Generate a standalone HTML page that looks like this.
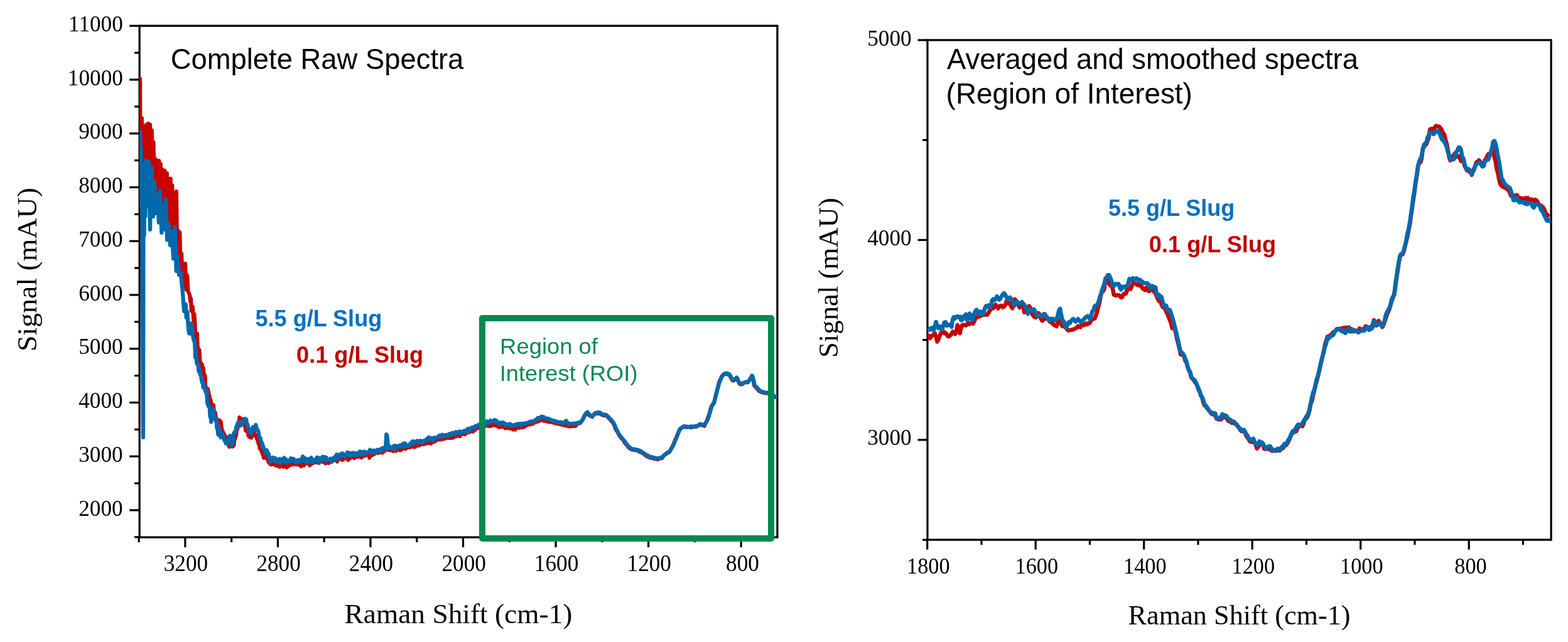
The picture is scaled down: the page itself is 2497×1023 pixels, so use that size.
<!DOCTYPE html>
<html lang="en"><head><meta charset="utf-8"><title>Raman spectra</title>
<style>
html,body{margin:0;padding:0;background:#fff;}
body{width:2497px;height:1023px;overflow:hidden;}
svg{display:block;}
text{white-space:pre;}
</style></head><body>
<svg width="2497" height="1023" viewBox="0 0 2497 1023">
<rect width="2497" height="1023" fill="#fff"/>
<defs><clipPath id="cl"><rect x="222.15" y="41.20" width="1015.75" height="814.90"/></clipPath><clipPath id="cr"><rect x="1477.00" y="63.90" width="993.10" height="796.30"/></clipPath></defs>
<line x1="222.15" y1="41.20" x2="1237.90" y2="41.20" stroke="#000" stroke-width="3.20" stroke-linecap="round"/>
<line x1="222.15" y1="856.10" x2="1237.90" y2="856.10" stroke="#000" stroke-width="3.20" stroke-linecap="round"/>
<line x1="222.15" y1="41.20" x2="222.15" y2="856.10" stroke="#000" stroke-width="3.20" stroke-linecap="round"/>
<line x1="1237.90" y1="41.20" x2="1237.90" y2="856.10" stroke="#000" stroke-width="3.20" stroke-linecap="round"/>
<line x1="206.15" y1="41.20" x2="222.15" y2="41.20" stroke="#000" stroke-width="3.20"/>
<line x1="214.15" y1="84.08" x2="222.15" y2="84.08" stroke="#000" stroke-width="3.20"/>
<line x1="206.15" y1="126.95" x2="222.15" y2="126.95" stroke="#000" stroke-width="3.20"/>
<line x1="214.15" y1="169.82" x2="222.15" y2="169.82" stroke="#000" stroke-width="3.20"/>
<line x1="206.15" y1="212.70" x2="222.15" y2="212.70" stroke="#000" stroke-width="3.20"/>
<line x1="214.15" y1="255.58" x2="222.15" y2="255.58" stroke="#000" stroke-width="3.20"/>
<line x1="206.15" y1="298.45" x2="222.15" y2="298.45" stroke="#000" stroke-width="3.20"/>
<line x1="214.15" y1="341.32" x2="222.15" y2="341.32" stroke="#000" stroke-width="3.20"/>
<line x1="206.15" y1="384.20" x2="222.15" y2="384.20" stroke="#000" stroke-width="3.20"/>
<line x1="214.15" y1="427.08" x2="222.15" y2="427.08" stroke="#000" stroke-width="3.20"/>
<line x1="206.15" y1="469.95" x2="222.15" y2="469.95" stroke="#000" stroke-width="3.20"/>
<line x1="214.15" y1="512.83" x2="222.15" y2="512.83" stroke="#000" stroke-width="3.20"/>
<line x1="206.15" y1="555.70" x2="222.15" y2="555.70" stroke="#000" stroke-width="3.20"/>
<line x1="214.15" y1="598.58" x2="222.15" y2="598.58" stroke="#000" stroke-width="3.20"/>
<line x1="206.15" y1="641.45" x2="222.15" y2="641.45" stroke="#000" stroke-width="3.20"/>
<line x1="214.15" y1="684.33" x2="222.15" y2="684.33" stroke="#000" stroke-width="3.20"/>
<line x1="206.15" y1="727.20" x2="222.15" y2="727.20" stroke="#000" stroke-width="3.20"/>
<line x1="214.15" y1="770.08" x2="222.15" y2="770.08" stroke="#000" stroke-width="3.20"/>
<line x1="206.15" y1="812.95" x2="222.15" y2="812.95" stroke="#000" stroke-width="3.20"/>
<line x1="214.15" y1="855.83" x2="222.15" y2="855.83" stroke="#000" stroke-width="3.20"/>
<line x1="221.13" y1="856.10" x2="221.13" y2="864.10" stroke="#000" stroke-width="3.20"/>
<line x1="294.90" y1="856.10" x2="294.90" y2="872.10" stroke="#000" stroke-width="3.20"/>
<line x1="368.67" y1="856.10" x2="368.67" y2="864.10" stroke="#000" stroke-width="3.20"/>
<line x1="442.44" y1="856.10" x2="442.44" y2="872.10" stroke="#000" stroke-width="3.20"/>
<line x1="516.21" y1="856.10" x2="516.21" y2="864.10" stroke="#000" stroke-width="3.20"/>
<line x1="589.98" y1="856.10" x2="589.98" y2="872.10" stroke="#000" stroke-width="3.20"/>
<line x1="663.75" y1="856.10" x2="663.75" y2="864.10" stroke="#000" stroke-width="3.20"/>
<line x1="737.52" y1="856.10" x2="737.52" y2="872.10" stroke="#000" stroke-width="3.20"/>
<line x1="811.29" y1="856.10" x2="811.29" y2="864.10" stroke="#000" stroke-width="3.20"/>
<line x1="885.06" y1="856.10" x2="885.06" y2="872.10" stroke="#000" stroke-width="3.20"/>
<line x1="958.83" y1="856.10" x2="958.83" y2="864.10" stroke="#000" stroke-width="3.20"/>
<line x1="1032.60" y1="856.10" x2="1032.60" y2="872.10" stroke="#000" stroke-width="3.20"/>
<line x1="1106.37" y1="856.10" x2="1106.37" y2="864.10" stroke="#000" stroke-width="3.20"/>
<line x1="1180.14" y1="856.10" x2="1180.14" y2="872.10" stroke="#000" stroke-width="3.20"/>
<g clip-path="url(#cl)">
<path d="M223.0 125.9 L223.6 290.0 L225.0 200.0 L225.8 188.0 L227.0 300.0 L232.3 199.4 L234.0 287.8 L235.8 196.9 L237.3 278.8 L238.9 198.7 L240.2 303.5 L241.8 207.7 L243.1 287.0 L244.5 226.7 L245.8 307.3 L247.4 253.4 L248.8 320.9 L250.1 256.1 L251.4 329.7 L253.2 256.2 L254.5 338.9 L255.8 261.4 L257.5 350.5 L259.0 270.5 L260.5 340.1 L262.3 271.8 L264.0 334.4 L265.8 276.1 L267.2 342.7 L268.7 284.6 L270.2 357.6 L271.7 284.5 L272.9 383.8 L274.3 295.4 L275.9 378.4 L277.4 312.2 L279.1 371.4 L280.9 305.0 L282.1 397.2 L283.3 366.9 L285.0 435.0 L286.3 370.4 L287.7 429.3 L289.1 404.1 L290.6 447.0 L292.3 420.3 L293.6 455.8 L295.0 420.1 L296.4 461.3 L298.2 439.1 L299.4 463.4 L302.2 470.7 L303.1 480.1 L304.0 475.8 L304.9 495.3 L305.8 490.2 L306.7 488.6 L307.6 500.1 L308.5 511.8 L309.4 500.7 L310.3 512.7 L311.2 535.7 L312.1 535.8 L313.0 538.8 L313.9 531.4 L314.8 555.6 L315.7 554.8 L316.6 559.3 L317.5 558.1 L318.4 574.3 L319.3 583.2 L320.2 578.6 L321.1 580.9 L322.0 581.3 L322.9 589.6 L323.8 586.4 L324.7 596.6 L325.6 596.7 L326.5 599.3 L327.4 617.5 L328.3 624.6 L329.2 623.6 L330.1 628.3 L331.0 619.6 L331.9 624.0 L332.8 628.4 L333.7 631.9 L334.6 647.5 L335.5 637.7 L336.4 643.9 L337.3 647.4 L338.2 648.2 L339.1 657.5 L340.0 645.7 L340.9 659.8 L341.8 659.3 L342.7 657.4 L343.6 664.6 L344.5 671.7 L345.4 667.3 L346.3 671.8 L347.2 671.3 L348.1 672.4 L349.0 669.8 L349.9 669.9 L350.8 674.6 L351.7 672.0 L352.6 679.6 L353.5 688.2 L354.4 686.7 L355.3 690.3 L356.2 690.9 L357.1 691.6 L358.0 696.5 L358.9 697.3 L359.8 700.8 L360.7 696.2 L361.6 704.1 L362.5 700.0 L363.4 703.9 L364.3 710.3 L365.2 711.9 L366.1 707.3 L367.0 705.7 L367.9 710.4 L368.8 709.1 L369.7 711.5 L370.6 706.6 L371.5 710.7 L372.4 709.9 L373.3 701.0 L374.2 699.4 L375.1 695.1 L376.0 694.0 L376.9 683.2 L377.8 684.5 L378.7 679.5 L379.6 674.3 L380.5 673.9 L381.4 665.2 L382.3 666.5 L383.2 667.9 L384.1 671.3 L385.0 668.8 L385.9 667.7 L386.8 670.7 L387.7 670.3 L388.6 672.0 L389.5 675.0 L390.4 678.6 L391.3 686.4 L392.2 680.2 L393.1 685.8 L394.0 687.3 L394.9 689.0 L395.8 694.9 L396.7 695.0 L397.6 696.5 L398.5 694.8 L399.4 694.3 L400.3 697.4 L401.2 695.4 L402.1 692.5 L403.0 693.0 L403.9 686.9 L404.8 689.0 L405.7 693.5 L406.6 692.6 L407.5 695.4 L408.4 694.1 L409.3 699.7 L410.2 698.7 L411.1 705.4 L412.0 707.3 L412.9 709.6 L413.8 715.1 L414.7 714.3 L415.6 713.5 L416.5 719.6 L417.4 719.1 L418.3 724.1 L419.2 724.9 L420.1 729.7 L421.0 725.5 L421.9 724.9 L422.8 724.9 L423.7 730.0 L424.6 724.8 L425.5 727.0 L426.4 729.6 L427.3 735.0 L428.2 737.2 L429.1 735.6 L430.0 739.2 L430.9 738.3 L431.8 740.4 L432.7 739.9 L433.6 736.5 L434.5 738.7 L435.4 738.3 L436.3 740.0 L437.2 739.8 L438.1 739.7 L439.0 741.5 L439.9 740.4 L440.8 742.1 L441.7 740.8 L442.6 740.5 L443.5 743.0 L444.4 743.2 L445.3 744.0 L446.2 742.9 L447.1 741.3 L448.0 742.0 L448.9 741.7 L449.8 737.5 L450.7 738.7 L451.6 744.0 L452.5 740.5 L453.4 734.5 L454.3 740.0 L455.2 740.6 L456.1 737.7 L457.0 745.0 L457.9 742.6 L458.8 741.9 L459.7 739.9 L460.6 741.2 L461.5 741.8 L462.4 741.0 L463.3 738.5 L464.2 740.2 L465.1 739.9 L466.0 740.1 L466.9 737.3 L467.8 739.8 L468.7 739.2 L469.6 739.6 L470.5 739.4 L471.4 735.9 L472.3 740.5 L473.2 740.4 L474.1 736.3 L475.0 739.0 L475.9 737.5 L476.8 738.5 L477.7 741.5 L478.6 740.4 L479.5 743.1 L480.4 739.2 L481.3 736.7 L482.2 739.0 L483.1 733.8 L484.0 741.9 L484.9 738.8 L485.8 739.0 L486.7 738.3 L487.6 736.4 L488.5 737.9 L489.4 736.7 L490.3 737.3 L491.2 739.0 L492.1 736.0 L493.0 741.6 L493.9 736.5 L494.8 740.2 L495.7 737.3 L496.6 735.7 L497.5 738.5 L498.4 737.7 L499.3 736.6 L500.2 736.5 L501.1 735.0 L502.0 736.7 L502.9 734.5 L503.8 735.1 L504.7 737.0 L505.6 732.4 L506.5 733.8 L507.4 733.6 L508.3 733.4 L509.2 732.3 L510.1 734.3 L511.0 735.1 L511.9 734.6 L512.8 731.9 L513.7 736.1 L514.6 736.2 L515.5 735.0 L516.4 733.0 L517.3 733.2 L518.2 738.4 L519.1 738.0 L520.0 735.7 L520.9 733.1 L521.8 737.1 L522.7 735.1 L523.6 737.9 L524.5 733.8 L525.4 735.5 L526.3 733.9 L527.2 735.4 L528.1 732.5 L529.0 735.1 L529.9 732.4 L530.8 731.2 L531.7 733.5 L532.6 732.6 L533.5 728.1 L534.4 731.8 L535.3 732.1 L536.2 732.2 L537.1 735.5 L538.0 730.7 L538.9 731.8 L539.8 728.9 L540.7 729.3 L541.6 730.9 L542.5 731.6 L543.4 731.5 L544.3 732.8 L545.2 732.6 L546.1 732.7 L547.0 730.3 L547.9 731.1 L548.8 728.6 L549.7 730.1 L550.6 730.0 L551.5 728.0 L552.4 723.3 L553.3 727.6 L554.2 733.1 L555.1 728.4 L556.0 727.4 L556.9 728.6 L557.8 730.3 L558.7 728.9 L559.6 727.9 L560.5 725.9 L561.4 727.5 L562.3 725.8 L563.2 728.3 L564.1 730.2 L565.0 729.3 L565.9 726.4 L566.8 725.6 L567.7 724.8 L568.6 727.7 L569.5 727.8 L570.4 728.0 L571.3 727.1 L572.2 724.4 L573.1 723.1 L574.0 728.0 L574.9 724.7 L575.8 729.1 L576.7 722.3 L577.6 723.8 L578.5 724.0 L579.4 725.8 L580.3 726.4 L581.2 724.2 L582.1 726.0 L583.0 722.8 L583.9 723.9 L584.8 722.7 L585.7 723.6 L586.6 723.3 L587.5 724.7 L588.4 729.6 L589.3 721.8 L590.2 723.5 L591.1 724.8 L592.0 723.5 L592.9 725.4 L593.8 721.3 L594.7 723.9 L595.6 721.1 L596.5 723.4 L597.4 722.1 L598.3 722.0 L599.2 720.4 L600.1 718.2 L601.0 719.1 L601.9 721.7 L602.8 719.9 L603.7 721.2 L604.6 717.8 L605.5 720.6 L606.4 720.9 L607.3 715.6 L608.2 719.3 L609.1 721.5 L610.0 717.1 L610.9 719.5 L611.8 717.7 L612.7 718.5 L613.6 716.2 L614.5 715.1 L615.4 715.2 L616.3 714.9 L617.2 714.1 L618.1 714.0 L619.0 717.3 L619.9 715.2 L620.8 714.6 L621.7 715.3 L622.6 717.8 L623.5 713.8 L624.4 717.8 L625.3 718.1 L626.2 718.8 L627.1 716.2 L628.0 715.6 L628.9 717.0 L629.8 716.8 L630.7 718.5 L631.6 716.6 L632.5 715.7 L633.4 714.2 L634.3 715.7 L635.2 715.9 L636.1 717.4 L637.0 715.6 L637.9 717.3 L638.8 716.9 L639.7 713.9 L640.6 713.2 L641.5 713.7 L642.4 714.1 L643.3 713.2 L644.2 715.0 L645.1 714.7 L646.0 715.2 L646.9 713.6 L647.8 712.3 L648.7 713.2 L649.6 711.1 L650.5 712.3 L651.4 710.7 L652.3 713.1 L653.2 707.5 L654.1 712.1 L655.0 711.9 L655.9 710.5 L656.8 710.9 L657.7 710.6 L658.6 712.0 L659.5 712.3 L660.4 710.0 L661.3 712.1 L662.2 708.9 L663.1 710.2 L664.0 710.1 L664.9 707.7 L665.8 709.7 L666.7 708.3 L667.6 710.0 L668.5 707.5 L669.4 706.0 L670.3 706.4 L671.2 707.8 L672.1 707.9 L673.0 707.7 L673.9 706.0 L674.8 707.7 L675.7 705.7 L676.6 705.8 L677.5 707.1 L678.4 705.4 L679.3 702.9 L680.2 706.0 L681.1 704.9 L682.0 704.1 L682.9 706.1 L683.8 703.4 L684.7 704.8 L685.6 703.9 L686.5 706.8 L687.4 701.0 L688.3 703.3 L689.2 703.3 L690.1 704.0 L691.0 701.8 L691.9 701.3 L692.8 703.5 L693.7 701.0 L694.6 701.6 L695.5 700.9 L696.4 701.1 L697.3 698.7 L698.2 699.4 L699.1 699.8 L700.0 699.7 L700.9 700.6 L701.8 699.6 L702.7 699.5 L703.6 698.6 L704.5 700.1 L705.4 697.7 L706.3 698.2 L707.2 696.4 L708.1 696.9 L709.0 699.0 L709.9 697.8 L710.8 695.6 L711.7 697.6 L712.6 697.3 L713.5 696.1 L714.4 697.7 L715.3 696.8 L716.2 697.0 L717.1 698.0 L718.0 696.0 L718.9 697.8 L719.8 696.1 L720.7 696.0 L721.6 697.6 L722.5 696.4 L723.4 695.2 L724.3 695.3 L725.2 695.4 L726.1 693.2 L727.0 695.3 L727.9 694.3 L728.8 692.5 L729.7 692.7 L730.6 694.4 L731.5 691.7 L732.4 695.3 L733.3 691.4 L734.2 692.6 L735.1 689.2 L736.0 691.6 L736.9 690.7 L737.8 691.5 L738.7 690.9 L739.6 689.9 L740.5 692.3 L741.4 690.5 L742.3 688.5 L743.2 689.3 L744.1 685.5 L745.0 687.6 L745.9 689.3 L746.8 687.1 L747.7 687.6 L748.6 686.0 L749.5 687.8 L750.4 686.9 L751.3 686.5 L752.2 687.3 L753.1 687.8 L754.0 686.7 L754.9 683.8 L755.8 685.5 L756.7 684.9 L757.6 682.9 L758.5 681.9 L759.4 682.6 L760.3 682.2 L761.2 681.9 L762.1 680.7 L763.0 681.1 L763.9 680.7 L764.8 679.9 L765.7 680.4 L766.6 679.2 L767.5 678.0 L768.4 679.3 L769.3 680.0 L770.2 681.6 L771.1 676.5 L772.0 677.9 L772.9 677.3 L773.8 678.2 L774.7 676.9 L775.6 677.7 L776.5 678.5 L777.4 676.7 L778.3 677.3 L779.2 678.9 L780.1 678.1 L781.0 675.6 L781.9 679.1 L782.8 676.4 L783.7 677.3 L784.6 676.5 L785.5 676.4 L786.4 676.4 L787.3 677.9 L788.2 676.9 L789.1 676.7 L790.0 677.6 L790.9 678.4 L791.8 676.8 L792.7 679.7 L793.6 678.5 L794.5 680.0 L795.4 680.7 L796.3 679.9 L797.2 680.2 L798.1 679.5 L799.0 679.4 L799.9 678.5 L800.8 680.2 L801.7 680.0 L802.6 678.5 L803.5 681.0 L804.4 682.3 L805.3 681.4 L806.2 682.2 L807.1 681.2 L808.0 680.7 L808.9 681.7 L809.8 681.6 L810.7 681.0 L811.6 683.0 L812.5 682.5 L813.4 682.0 L814.3 682.9 L815.2 682.8 L816.1 683.6 L817.0 684.5 L817.9 682.9 L818.8 682.2 L819.7 684.0 L820.6 684.5 L821.5 681.9 L822.4 681.4 L823.3 680.9 L824.2 681.6 L825.1 681.4 L826.0 680.9 L826.9 681.6 L827.8 680.2 L828.7 680.3 L829.6 679.6 L830.5 681.4 L831.4 681.0 L832.3 681.0 L833.2 679.3 L834.1 680.7 L835.0 679.6 L835.9 679.5 L836.8 679.1 L837.7 678.1 L838.6 677.8 L839.5 676.5 L840.4 676.8 L841.3 676.6 L842.2 675.7 L843.1 676.1 L844.0 676.6 L844.9 675.1 L845.8 674.5 L846.7 674.3 L847.6 674.7 L848.5 675.4 L849.4 674.1 L850.3 673.7 L851.2 672.6 L852.1 673.2 L853.0 673.0 L853.9 672.0 L854.8 671.9 L855.7 671.1 L856.6 671.6 L857.5 671.6 L858.4 670.6 L859.3 670.3 L860.2 669.7 L861.1 669.2 L862.0 669.2 L862.9 669.5 L863.8 669.9 L864.7 669.9 L865.6 670.5 L866.5 670.4 L867.4 670.9 L868.3 670.6 L869.2 670.1 L870.1 670.5 L871.0 669.9 L871.9 671.8 L872.8 670.9 L873.7 671.2 L874.6 672.5 L875.5 671.3 L876.4 671.8 L877.3 672.3 L878.2 672.2 L879.1 672.8 L880.0 673.1 L880.9 673.5 L881.8 673.4 L882.7 673.9 L883.6 673.7 L884.5 674.4 L885.4 674.8 L886.3 673.8 L887.2 674.7 L888.1 675.1 L889.0 674.4 L889.9 674.2 L890.8 675.8 L891.7 675.6 L892.6 676.4 L893.5 676.3 L894.4 676.6 L895.3 676.7 L896.2 677.1 L897.1 676.9 L898.0 677.3 L898.9 678.0 L899.8 677.8 L900.7 678.2 L901.6 678.2 L902.5 678.3 L903.4 678.3 L904.3 679.1 L905.2 678.7 L906.1 679.3 L907.0 678.8 L907.9 679.5 L908.8 679.5 L909.7 679.0 L910.6 678.6 L911.5 679.0 L912.4 679.0 L913.3 678.7 L914.2 678.6 L915.1 679.1 L916.0 678.6 L916.9 678.4 L919.2 675.4 L920.7 674.6 L922.2 673.9 L923.7 674.3 L925.2 672.0 L926.7 670.5 L928.2 667.6 L929.7 665.0 L931.2 662.1 L932.7 659.4 L934.2 658.4 L935.7 659.2 L937.2 660.9 L938.7 662.0 L940.2 662.8 L941.7 662.7 L943.2 664.1 L944.7 661.5 L946.2 660.8 L947.7 658.4 L949.2 658.8 L950.7 659.0 L952.2 657.5 L953.7 659.1 L955.2 658.6 L956.7 659.5 L958.2 661.0 L959.7 660.9 L961.2 662.2 L962.7 662.1 L964.2 660.8 L965.7 661.9 L967.2 663.7 L968.7 665.8 L970.2 666.5 L971.7 668.3 L973.2 670.7 L974.7 671.6 L976.2 674.0 L977.7 675.9 L979.2 680.7 L980.7 684.5 L982.2 686.5 L983.7 688.9 L985.2 691.9 L986.7 695.0 L988.2 696.0 L989.7 698.7 L991.2 699.5 L992.7 701.7 L994.2 704.1 L995.7 706.7 L997.2 708.1 L998.7 709.7 L1000.2 712.1 L1001.7 713.3 L1003.2 714.8 L1004.7 715.7 L1006.2 716.5 L1007.7 716.8 L1009.2 715.6 L1010.7 717.0 L1012.2 717.5 L1013.7 717.7 L1015.2 717.5 L1016.7 717.8 L1018.2 719.8 L1019.7 719.6 L1021.2 720.7 L1022.7 721.8 L1024.2 722.4 L1025.7 723.6 L1027.2 725.3 L1028.7 725.2 L1030.2 727.4 L1031.7 727.5 L1033.2 728.4 L1034.7 729.1 L1036.2 729.5 L1037.7 729.9 L1039.2 730.1 L1040.7 729.9 L1042.2 731.3 L1043.7 730.8 L1045.2 730.9 L1046.7 732.1 L1048.2 731.8 L1049.7 730.9 L1051.2 730.4 L1052.7 730.0 L1054.2 730.1 L1055.7 727.7 L1057.2 725.6 L1058.7 724.5 L1060.2 723.8 L1061.7 722.6 L1063.2 721.5 L1064.7 721.3 L1066.2 719.9 L1067.7 717.0 L1069.2 714.7 L1070.7 711.8 L1072.2 708.4 L1073.7 704.9 L1075.2 700.8 L1076.7 698.1 L1078.2 694.3 L1079.7 690.5 L1081.2 687.2 L1082.7 684.2 L1084.2 682.7 L1085.7 681.7 L1087.2 680.5 L1088.7 680.6 L1090.2 679.3 L1091.7 680.3 L1093.2 680.9 L1094.7 680.2 L1096.2 680.3 L1097.7 680.3 L1099.2 679.9 L1100.7 681.3 L1102.2 680.6 L1103.7 679.9 L1105.2 680.0 L1106.7 680.2 L1108.2 679.8 L1109.7 678.9 L1111.2 678.7 L1112.7 677.2 L1114.2 676.6 L1115.7 676.9 L1117.2 677.4 L1118.7 677.9 L1120.2 677.2 L1121.7 678.6 L1123.2 674.9 L1124.7 672.7 L1126.2 669.3 L1127.7 664.9 L1129.2 660.9 L1130.7 655.6 L1132.2 649.6 L1133.7 646.4 L1135.2 644.4 L1136.7 642.5 L1138.2 637.3 L1139.7 630.3 L1141.2 625.2 L1142.7 619.3 L1144.2 612.9 L1145.7 607.8 L1147.2 604.4 L1148.7 602.1 L1150.2 598.8 L1151.7 597.2 L1153.2 596.8 L1154.7 595.7 L1156.2 595.5 L1157.7 595.9 L1159.2 596.6 L1160.7 596.2 L1162.2 598.3 L1163.7 601.9 L1165.2 603.5 L1166.7 606.3 L1168.2 606.4 L1169.7 605.3 L1171.2 604.1 L1172.7 601.8 L1174.2 604.6 L1175.7 607.8 L1177.2 610.8 L1178.7 612.3 L1180.2 612.3 L1181.7 612.5 L1183.2 610.5 L1184.7 610.3 L1186.2 609.3 L1187.7 609.1 L1189.2 609.2 L1190.7 609.4 L1192.2 607.5 L1193.7 605.5 L1195.2 602.2 L1196.7 600.4 L1198.2 601.7 L1199.7 606.2 L1201.2 614.7 L1202.7 615.8 L1204.2 618.2 L1205.7 619.4 L1207.2 620.7 L1208.7 623.0 L1210.2 623.6 L1211.7 624.4 L1213.2 625.0 L1214.7 625.4 L1216.2 625.3 L1217.7 626.3 L1219.2 626.5 L1220.7 626.2 L1222.2 625.9 L1223.7 627.4 L1225.2 627.8 L1226.7 628.5 L1228.2 629.5 L1229.7 630.9 L1231.2 631.1 L1232.7 632.6 L1234.2 632.5 L1235.7 632.8" fill="none" stroke="#c80000" stroke-width="6.2" stroke-linejoin="round" stroke-linecap="round"/>
<path d="M223.2 209.8 L223.9 300.0 L224.6 236.0 L225.4 330.0 L226.3 262.0 L228.0 697.0 L228.6 285.0 L229.6 375.0 L230.6 292.0 L231.4 345.0 L232.3 256.1 L234.2 328.7 L236.7 257.0 L239.0 365.9 L241.2 266.9 L243.9 345.1 L245.8 290.0 L248.4 339.9 L250.9 311.6 L252.8 354.6 L254.8 303.8 L257.4 370.8 L259.5 326.7 L261.4 365.4 L263.8 318.1 L266.1 382.5 L268.7 358.1 L271.1 390.8 L273.8 368.5 L276.0 412.2 L278.6 362.6 L280.7 431.9 L282.9 408.4 L285.0 437.9 L287.6 433.9 L291.3 470.4 L292.2 485.0 L293.1 495.8 L294.0 486.2 L294.9 486.9 L295.8 484.8 L296.7 506.0 L297.6 496.4 L298.5 497.1 L299.4 516.1 L300.3 526.3 L301.2 531.5 L302.1 531.6 L303.0 516.9 L303.9 515.3 L304.8 521.3 L305.7 517.8 L306.6 529.0 L307.5 536.2 L308.4 542.2 L309.3 541.2 L310.2 548.5 L311.1 569.9 L312.0 558.3 L312.9 574.4 L313.8 580.0 L314.7 579.9 L315.6 581.2 L316.5 591.5 L317.4 586.8 L318.3 593.8 L319.2 598.0 L320.1 597.5 L321.0 605.3 L321.9 609.6 L322.8 608.9 L323.7 617.5 L324.6 616.1 L325.5 610.5 L326.4 620.3 L327.3 623.3 L328.2 626.1 L329.1 622.6 L330.0 641.7 L330.9 644.1 L331.8 646.9 L332.7 648.2 L333.6 646.1 L334.5 663.9 L335.4 658.1 L336.3 672.4 L337.2 658.4 L338.1 663.1 L339.0 652.2 L339.9 654.1 L340.8 659.4 L341.7 667.0 L342.6 668.7 L343.5 670.1 L344.4 666.3 L345.3 681.5 L346.2 678.4 L347.1 691.3 L348.0 693.0 L348.9 690.0 L349.8 690.9 L350.7 684.7 L351.6 697.2 L352.5 691.7 L353.4 695.4 L354.3 691.4 L355.2 696.0 L356.1 695.9 L357.0 701.2 L357.9 702.2 L358.8 703.2 L359.7 706.6 L360.6 704.4 L361.5 703.7 L362.4 702.3 L363.3 706.5 L364.2 698.9 L365.1 702.5 L366.0 694.4 L366.9 698.2 L367.8 702.5 L368.7 702.1 L369.6 709.7 L370.5 705.7 L371.4 692.8 L372.3 690.4 L373.2 689.0 L374.1 689.9 L375.0 686.4 L375.9 683.6 L376.8 678.6 L377.7 679.0 L378.6 673.8 L379.5 675.5 L380.4 679.0 L381.3 678.8 L382.2 672.8 L383.1 675.2 L384.0 677.8 L384.9 673.5 L385.8 671.5 L386.7 672.7 L387.6 671.7 L388.5 669.9 L389.4 667.6 L390.3 667.1 L391.2 667.9 L392.1 668.3 L393.0 674.5 L393.9 675.7 L394.8 678.8 L395.7 683.7 L396.6 685.4 L397.5 688.0 L398.4 688.6 L399.3 687.3 L400.2 691.6 L401.1 683.5 L402.0 682.3 L402.9 680.3 L403.8 682.3 L404.7 682.5 L405.6 683.7 L406.5 680.6 L407.4 676.9 L408.3 681.5 L409.2 685.0 L410.1 684.8 L411.0 686.4 L411.9 690.1 L412.8 696.2 L413.7 697.1 L414.6 697.6 L415.5 702.7 L416.4 706.7 L417.3 705.6 L418.2 712.7 L419.1 710.6 L420.0 714.9 L420.9 716.6 L421.8 717.9 L422.7 722.8 L423.6 717.6 L424.5 717.0 L425.4 718.8 L426.3 721.6 L427.2 722.9 L428.1 723.9 L429.0 730.2 L429.9 731.3 L430.8 735.9 L431.7 732.2 L432.6 733.0 L433.5 731.2 L434.4 729.0 L435.3 732.3 L436.2 733.8 L437.1 729.9 L438.0 731.1 L438.9 730.4 L439.8 736.3 L440.7 732.5 L441.6 735.5 L442.5 732.9 L443.4 735.4 L444.3 734.3 L445.2 731.1 L446.1 736.7 L447.0 738.1 L447.9 731.9 L448.8 735.2 L449.7 733.9 L450.6 731.8 L451.5 732.9 L452.4 729.5 L453.3 734.2 L454.2 736.3 L455.1 731.4 L456.0 734.0 L456.9 737.4 L457.8 735.0 L458.7 734.0 L459.6 733.5 L460.5 735.7 L461.4 734.4 L462.3 735.3 L463.2 730.1 L464.1 734.7 L465.0 731.0 L465.9 732.6 L466.8 731.0 L467.7 731.1 L468.6 733.8 L469.5 733.5 L470.4 734.5 L471.3 736.3 L472.2 737.0 L473.1 735.0 L474.0 733.2 L474.9 733.2 L475.8 735.1 L476.7 735.9 L477.6 732.8 L478.5 733.0 L479.4 731.5 L480.3 733.2 L481.2 734.7 L482.1 727.4 L483.0 734.0 L483.9 732.7 L484.8 729.5 L485.7 735.1 L486.6 734.6 L487.5 735.0 L488.4 731.1 L489.3 737.4 L490.2 732.8 L491.1 731.4 L492.0 734.5 L492.9 732.7 L493.8 733.6 L494.7 734.8 L495.6 729.1 L496.5 736.9 L497.4 733.6 L498.3 735.3 L499.2 736.2 L500.1 732.6 L501.0 734.1 L501.9 734.5 L502.8 732.5 L503.7 733.1 L504.6 728.8 L505.5 729.3 L506.4 729.2 L507.3 731.8 L508.2 738.0 L509.1 731.2 L510.0 730.2 L510.9 730.1 L511.8 731.9 L512.7 731.1 L513.6 727.8 L514.5 732.3 L515.4 730.8 L516.3 732.9 L517.2 728.1 L518.1 729.3 L519.0 733.7 L519.9 729.2 L520.8 733.1 L521.7 732.9 L522.6 732.4 L523.5 732.7 L524.4 732.4 L525.3 732.6 L526.2 730.8 L527.1 731.3 L528.0 736.4 L528.9 732.9 L529.8 731.8 L530.7 731.1 L531.6 728.9 L532.5 730.4 L533.4 729.3 L534.3 731.0 L535.2 727.2 L536.1 724.2 L537.0 727.0 L537.9 728.8 L538.8 731.5 L539.7 728.5 L540.6 724.4 L541.5 725.5 L542.4 724.1 L543.3 725.2 L544.2 723.8 L545.1 722.3 L546.0 725.8 L546.9 725.2 L547.8 724.4 L548.7 725.1 L549.6 727.9 L550.5 724.3 L551.4 723.3 L552.3 725.3 L553.2 720.7 L554.1 724.7 L555.0 721.9 L555.9 721.7 L556.8 723.5 L557.7 726.3 L558.6 722.3 L559.5 725.3 L560.4 724.4 L561.3 721.6 L562.2 725.6 L563.1 722.8 L564.0 721.8 L564.9 723.1 L565.8 723.3 L566.7 725.2 L567.6 722.7 L568.5 726.1 L569.4 723.6 L570.3 721.7 L571.2 721.2 L572.1 722.9 L573.0 719.3 L573.9 719.3 L574.8 721.7 L575.7 724.4 L576.6 723.9 L577.5 723.9 L578.4 723.2 L579.3 719.6 L580.2 722.3 L581.1 719.6 L582.0 723.5 L582.9 721.8 L583.8 721.3 L584.7 721.7 L585.6 721.1 L586.5 720.5 L587.4 720.2 L588.3 718.3 L589.2 716.6 L590.1 719.3 L591.0 721.0 L591.9 720.3 L592.8 718.4 L593.7 719.7 L594.6 718.0 L595.5 719.3 L596.4 717.7 L597.3 718.8 L598.2 721.6 L599.1 719.4 L600.0 720.4 L600.9 716.6 L601.8 716.6 L602.7 717.4 L603.6 718.2 L604.5 716.8 L605.4 718.4 L606.3 715.7 L607.2 718.4 L608.1 717.5 L609.0 714.0 L609.9 716.4 L610.8 714.8 L611.7 716.3 L612.6 713.1 L613.5 713.7 L614.4 707.7 L615.3 692.1 L616.2 693.4 L617.1 700.5 L618.0 709.4 L618.9 714.5 L619.8 713.5 L620.7 711.5 L621.6 714.1 L622.5 712.7 L623.4 713.7 L624.3 713.5 L625.2 714.6 L626.1 711.7 L627.0 711.9 L627.9 710.0 L628.8 716.2 L629.7 711.3 L630.6 711.2 L631.5 710.5 L632.4 710.9 L633.3 710.7 L634.2 711.8 L635.1 710.9 L636.0 711.0 L636.9 709.6 L637.8 710.3 L638.7 712.1 L639.6 710.2 L640.5 710.6 L641.4 707.2 L642.3 710.7 L643.2 710.3 L644.1 711.8 L645.0 706.2 L645.9 710.2 L646.8 710.1 L647.7 710.5 L648.6 709.7 L649.5 710.8 L650.4 710.8 L651.3 709.2 L652.2 708.1 L653.1 707.5 L654.0 706.6 L654.9 706.5 L655.8 705.2 L656.7 703.3 L657.6 707.8 L658.5 703.4 L659.4 705.5 L660.3 703.8 L661.2 705.0 L662.1 703.8 L663.0 704.7 L663.9 703.3 L664.8 702.3 L665.7 704.2 L666.6 705.2 L667.5 703.8 L668.4 703.6 L669.3 702.2 L670.2 703.6 L671.1 704.4 L672.0 703.0 L672.9 705.1 L673.8 703.4 L674.7 703.5 L675.6 701.9 L676.5 701.5 L677.4 702.0 L678.3 701.8 L679.2 701.2 L680.1 699.0 L681.0 698.9 L681.9 699.4 L682.8 696.6 L683.7 700.3 L684.6 699.4 L685.5 699.1 L686.4 698.3 L687.3 700.3 L688.2 699.0 L689.1 701.9 L690.0 700.0 L690.9 697.5 L691.8 699.8 L692.7 697.8 L693.6 697.3 L694.5 697.2 L695.4 696.9 L696.3 697.0 L697.2 697.2 L698.1 696.5 L699.0 694.7 L699.9 693.6 L700.8 694.0 L701.7 695.1 L702.6 695.5 L703.5 696.5 L704.4 692.6 L705.3 694.3 L706.2 693.8 L707.1 693.5 L708.0 694.1 L708.9 693.6 L709.8 693.5 L710.7 693.0 L711.6 694.0 L712.5 694.6 L713.4 695.0 L714.3 692.2 L715.2 691.4 L716.1 692.1 L717.0 691.2 L717.9 693.2 L718.8 690.8 L719.7 691.6 L720.6 689.8 L721.5 690.8 L722.4 691.3 L723.3 692.7 L724.2 690.0 L725.1 691.0 L726.0 688.1 L726.9 688.9 L727.8 689.2 L728.7 689.4 L729.6 690.3 L730.5 690.3 L731.4 687.5 L732.3 689.7 L733.2 687.6 L734.1 690.7 L735.0 688.7 L735.9 688.3 L736.8 687.7 L737.7 687.6 L738.6 687.3 L739.5 686.3 L740.4 687.6 L741.3 686.8 L742.2 686.8 L743.1 685.3 L744.0 685.4 L744.9 683.3 L745.8 687.8 L746.7 683.0 L747.6 683.1 L748.5 684.4 L749.4 684.6 L750.3 682.2 L751.2 681.1 L752.1 681.2 L753.0 681.0 L753.9 680.7 L754.8 680.8 L755.7 681.5 L756.6 681.0 L757.5 678.6 L758.4 679.4 L759.3 679.4 L760.2 679.6 L761.1 677.7 L762.0 676.7 L762.9 677.9 L763.8 678.4 L764.7 676.0 L765.6 678.2 L766.5 677.7 L767.4 675.4 L768.3 673.7 L769.2 674.4 L770.1 674.4 L771.0 675.0 L771.9 672.5 L772.8 676.3 L773.7 675.9 L774.6 672.7 L775.5 671.3 L776.4 672.8 L777.3 673.1 L778.2 673.8 L779.1 673.0 L780.0 671.9 L780.9 669.9 L781.8 672.1 L782.7 672.2 L783.6 670.9 L784.5 671.2 L785.4 670.9 L786.3 670.2 L787.2 669.2 L788.1 670.9 L789.0 669.5 L789.9 672.5 L790.8 670.6 L791.7 672.3 L792.6 672.3 L793.5 674.5 L794.4 675.1 L795.3 675.8 L796.2 674.5 L797.1 673.6 L798.0 674.8 L798.9 674.6 L799.8 673.5 L800.7 674.2 L801.6 673.2 L802.5 674.9 L803.4 674.7 L804.3 675.3 L805.2 677.8 L806.1 675.9 L807.0 676.3 L807.9 676.7 L808.8 676.4 L809.7 676.4 L810.6 677.9 L811.5 678.4 L812.4 675.5 L813.3 678.1 L814.2 678.0 L815.1 677.7 L816.0 679.0 L816.9 677.5 L817.8 678.5 L818.7 677.3 L819.6 677.2 L820.5 677.9 L821.4 676.5 L822.3 676.8 L823.2 675.8 L824.1 675.7 L825.0 676.8 L825.9 676.5 L826.8 675.1 L827.7 675.0 L828.6 677.7 L829.5 675.2 L830.4 675.0 L831.3 675.9 L832.2 674.9 L833.1 675.0 L834.0 675.8 L834.9 675.7 L835.8 674.6 L836.7 675.5 L837.6 674.3 L838.5 674.1 L839.4 674.0 L840.3 673.6 L841.2 673.8 L842.1 673.3 L843.0 672.3 L843.9 672.6 L844.8 671.8 L845.7 671.4 L846.6 671.5 L847.5 672.0 L848.4 671.3 L849.3 671.7 L850.2 671.6 L851.1 670.4 L852.0 669.7 L852.9 668.9 L853.8 668.9 L854.7 668.5 L855.6 668.3 L856.5 665.9 L857.4 666.5 L858.3 666.3 L859.2 666.9 L860.1 665.4 L861.0 665.0 L861.9 663.9 L862.8 664.1 L863.7 663.9 L864.6 664.3 L865.5 664.7 L866.4 664.7 L867.3 665.8 L868.2 666.4 L869.1 666.9 L870.0 666.8 L870.9 667.6 L871.8 667.9 L872.7 666.9 L873.6 667.8 L874.5 667.6 L875.4 668.0 L876.3 668.8 L877.2 668.9 L878.1 670.0 L879.0 670.5 L879.9 670.0 L880.8 670.0 L881.7 670.3 L882.6 670.6 L883.5 671.1 L884.4 670.8 L885.3 671.7 L886.2 671.6 L887.1 672.4 L888.0 672.8 L888.9 673.2 L889.8 672.7 L890.7 672.5 L891.6 672.6 L892.5 673.2 L893.4 672.9 L894.3 672.9 L895.2 673.5 L896.1 673.4 L897.0 674.1 L897.9 674.6 L898.8 673.7 L899.7 672.7 L900.6 670.9 L901.5 670.4 L902.4 671.6 L903.3 673.0 L904.2 674.3 L905.1 676.0 L906.0 674.9 L906.9 675.0 L907.8 675.4 L908.7 675.5 L909.6 675.5 L910.5 675.5 L911.4 675.0 L912.3 675.5 L913.2 675.2 L914.1 674.6 L915.0 675.5 L915.9 674.8 L916.8 675.1 L917.7 674.2 L918.6 674.1 L919.5 674.0 L920.4 673.8 L921.3 674.1 L922.2 673.0 L923.1 673.4 L924.0 672.7 L924.9 672.8 L925.8 671.4 L926.7 669.9 L927.6 669.6 L928.5 667.5 L929.4 666.4 L930.3 663.5 L931.2 661.9 L932.1 660.0 L933.0 658.6 L933.9 657.8 L934.8 657.1 L935.7 656.5 L936.6 658.3 L937.5 659.1 L938.4 660.2 L939.3 661.5 L940.2 662.4 L941.1 662.0 L942.0 662.3 L942.9 662.4 L943.8 662.6 L944.7 661.9 L945.6 660.7 L946.5 659.8 L947.4 659.1 L948.3 658.7 L949.2 658.1 L950.1 658.2 L951.0 657.1 L951.9 657.5 L952.8 657.4 L953.7 657.3 L954.6 657.2 L955.5 657.5 L956.4 657.9 L957.3 659.0 L958.2 660.5 L959.1 660.3 L960.0 660.2 L960.9 660.9 L961.8 660.8 L962.7 661.1 L963.6 661.0 L964.5 660.9 L965.4 661.2 L966.3 662.0 L967.2 662.8 L968.1 664.0 L969.0 664.1 L969.9 665.7 L970.8 666.3 L971.7 667.3 L972.6 668.7 L973.5 669.3 L974.4 670.4 L975.3 671.6 L976.2 672.6 L977.1 673.7 L978.0 675.6 L978.9 677.5 L979.8 679.3 L980.7 682.4 L981.6 683.8 L982.5 685.8 L983.4 687.2 L984.3 688.6 L985.2 690.8 L986.1 692.3 L987.0 693.6 L987.9 694.5 L988.8 695.8 L989.7 697.0 L990.6 698.1 L991.5 699.0 L992.4 700.2 L993.3 701.4 L994.2 702.3 L995.1 704.3 L996.0 704.6 L996.9 706.2 L997.8 707.5 L998.7 707.9 L999.6 710.1 L1000.5 710.8 L1001.4 711.8 L1002.3 712.4 L1003.2 712.8 L1004.1 714.1 L1005.0 714.8 L1005.9 715.9 L1006.8 716.2 L1007.7 715.5 L1008.6 716.4 L1009.5 716.3 L1010.4 716.3 L1011.3 716.2 L1012.2 715.8 L1013.1 716.4 L1014.0 716.5 L1014.9 717.8 L1015.8 717.2 L1016.7 717.2 L1017.6 717.8 L1018.5 718.7 L1019.4 718.4 L1020.3 718.3 L1021.2 720.1 L1022.1 720.3 L1023.0 720.6 L1023.9 721.6 L1024.8 721.6 L1025.7 722.1 L1026.6 723.3 L1027.5 723.4 L1028.4 724.3 L1029.3 724.7 L1030.2 725.5 L1031.1 725.9 L1032.0 725.8 L1032.9 727.2 L1033.8 727.4 L1034.7 728.0 L1035.6 728.0 L1036.5 728.6 L1037.4 728.3 L1038.3 728.0 L1039.2 728.8 L1040.1 729.2 L1041.0 729.2 L1041.9 729.4 L1042.8 730.2 L1043.7 729.9 L1044.6 730.5 L1045.5 730.5 L1046.4 730.2 L1047.3 730.6 L1048.2 730.8 L1049.1 730.6 L1050.0 730.0 L1050.9 729.4 L1051.8 729.2 L1052.7 729.0 L1053.6 728.6 L1054.5 728.3 L1055.4 728.4 L1056.3 727.0 L1057.2 725.8 L1058.1 725.1 L1059.0 724.7 L1059.9 723.5 L1060.8 722.7 L1061.7 721.8 L1062.6 721.2 L1063.5 721.1 L1064.4 720.6 L1065.3 719.7 L1066.2 719.2 L1067.1 718.2 L1068.0 716.1 L1068.9 714.7 L1069.8 713.7 L1070.7 712.4 L1071.6 710.8 L1072.5 708.9 L1073.4 706.9 L1074.3 704.5 L1075.2 702.0 L1076.1 700.6 L1077.0 698.3 L1077.9 695.9 L1078.8 693.2 L1079.7 691.4 L1080.6 688.5 L1081.5 687.0 L1082.4 684.2 L1083.3 683.2 L1084.2 683.0 L1085.1 682.0 L1086.0 681.9 L1086.9 680.7 L1087.8 680.1 L1088.7 679.4 L1089.6 679.3 L1090.5 679.3 L1091.4 679.8 L1092.3 680.0 L1093.2 679.8 L1094.1 679.5 L1095.0 680.1 L1095.9 680.4 L1096.8 680.2 L1097.7 680.1 L1098.6 680.3 L1099.5 680.4 L1100.4 679.2 L1101.3 680.4 L1102.2 680.2 L1103.1 680.0 L1104.0 679.6 L1104.9 679.7 L1105.8 679.7 L1106.7 679.0 L1107.6 679.6 L1108.5 679.3 L1109.4 679.6 L1110.3 678.8 L1111.2 678.0 L1112.1 677.6 L1113.0 677.3 L1113.9 676.6 L1114.8 676.2 L1115.7 675.5 L1116.6 675.9 L1117.5 676.7 L1118.4 676.9 L1119.3 676.9 L1120.2 677.1 L1121.1 676.3 L1122.0 676.2 L1122.9 676.2 L1123.8 674.2 L1124.7 672.7 L1125.6 670.7 L1126.5 669.2 L1127.4 667.3 L1128.3 665.2 L1129.2 662.1 L1130.1 658.8 L1131.0 656.3 L1131.9 652.8 L1132.8 649.1 L1133.7 646.2 L1134.6 645.1 L1135.5 644.3 L1136.4 642.0 L1137.3 640.9 L1138.2 637.7 L1139.1 633.9 L1140.0 630.6 L1140.9 627.4 L1141.8 623.8 L1142.7 619.6 L1143.6 616.5 L1144.5 613.3 L1145.4 609.8 L1146.3 607.4 L1147.2 605.6 L1148.1 603.5 L1149.0 600.9 L1149.9 599.4 L1150.8 598.5 L1151.7 597.1 L1152.6 596.3 L1153.5 595.4 L1154.4 595.4 L1155.3 595.7 L1156.2 594.7 L1157.1 594.5 L1158.0 595.0 L1158.9 595.3 L1159.8 595.3 L1160.7 596.1 L1161.6 596.7 L1162.5 597.6 L1163.4 599.5 L1164.3 601.2 L1165.2 602.5 L1166.1 603.9 L1167.0 604.5 L1167.9 605.9 L1168.8 606.1 L1169.7 604.9 L1170.6 604.0 L1171.5 604.1 L1172.4 603.0 L1173.3 601.7 L1174.2 602.5 L1175.1 604.9 L1176.0 607.3 L1176.9 608.9 L1177.8 609.9 L1178.7 610.4 L1179.6 611.3 L1180.5 612.0 L1181.4 611.8 L1182.3 611.7 L1183.2 611.1 L1184.1 610.4 L1185.0 609.6 L1185.9 609.6 L1186.8 608.8 L1187.7 608.8 L1188.6 608.9 L1189.5 608.2 L1190.4 608.3 L1191.3 607.9 L1192.2 607.7 L1193.1 606.5 L1194.0 605.0 L1194.9 603.3 L1195.8 602.7 L1196.7 600.6 L1197.6 598.5 L1198.5 599.5 L1199.4 603.1 L1200.3 606.7 L1201.2 611.3 L1202.1 614.6 L1203.0 615.1 L1203.9 616.3 L1204.8 616.6 L1205.7 618.0 L1206.6 619.1 L1207.5 619.5 L1208.4 620.6 L1209.3 621.5 L1210.2 622.5 L1211.1 623.7 L1212.0 623.5 L1212.9 624.4 L1213.8 623.9 L1214.7 624.3 L1215.6 624.5 L1216.5 624.9 L1217.4 625.0 L1218.3 625.5 L1219.2 625.5 L1220.1 626.2 L1221.0 625.9 L1221.9 625.8 L1222.8 626.1 L1223.7 626.3 L1224.6 626.2 L1225.5 626.0 L1226.4 626.6 L1227.3 627.5 L1228.2 628.2 L1229.1 628.7 L1230.0 629.1 L1230.9 629.8 L1231.8 630.1 L1232.7 630.9 L1233.6 631.6 L1234.5 632.0 L1235.4 632.5" fill="none" stroke="#0069ad" stroke-width="6.2" stroke-linejoin="round" stroke-linecap="round"/>
</g>
<rect x="768" y="507" width="460" height="351" fill="none" stroke="#028a4f" stroke-width="10" stroke-linejoin="round"/>
<line x1="1477.00" y1="63.90" x2="2470.10" y2="63.90" stroke="#000" stroke-width="3.20" stroke-linecap="round"/>
<line x1="1477.00" y1="860.20" x2="2470.10" y2="860.20" stroke="#000" stroke-width="3.20" stroke-linecap="round"/>
<line x1="1477.00" y1="63.90" x2="1477.00" y2="860.20" stroke="#000" stroke-width="3.20" stroke-linecap="round"/>
<line x1="2470.10" y1="63.90" x2="2470.10" y2="860.20" stroke="#000" stroke-width="3.20" stroke-linecap="round"/>
<line x1="1461.50" y1="63.90" x2="1477.00" y2="63.90" stroke="#000" stroke-width="3.20"/>
<line x1="1469.00" y1="223.16" x2="1477.00" y2="223.16" stroke="#000" stroke-width="3.20"/>
<line x1="1461.50" y1="382.42" x2="1477.00" y2="382.42" stroke="#000" stroke-width="3.20"/>
<line x1="1469.00" y1="541.68" x2="1477.00" y2="541.68" stroke="#000" stroke-width="3.20"/>
<line x1="1461.50" y1="700.94" x2="1477.00" y2="700.94" stroke="#000" stroke-width="3.20"/>
<line x1="1469.00" y1="860.20" x2="1477.00" y2="860.20" stroke="#000" stroke-width="3.20"/>
<line x1="1476.70" y1="860.20" x2="1476.70" y2="875.70" stroke="#000" stroke-width="3.20"/>
<line x1="1562.95" y1="860.20" x2="1562.95" y2="868.20" stroke="#000" stroke-width="3.20"/>
<line x1="1649.20" y1="860.20" x2="1649.20" y2="875.70" stroke="#000" stroke-width="3.20"/>
<line x1="1735.45" y1="860.20" x2="1735.45" y2="868.20" stroke="#000" stroke-width="3.20"/>
<line x1="1821.70" y1="860.20" x2="1821.70" y2="875.70" stroke="#000" stroke-width="3.20"/>
<line x1="1907.95" y1="860.20" x2="1907.95" y2="868.20" stroke="#000" stroke-width="3.20"/>
<line x1="1994.20" y1="860.20" x2="1994.20" y2="875.70" stroke="#000" stroke-width="3.20"/>
<line x1="2080.45" y1="860.20" x2="2080.45" y2="868.20" stroke="#000" stroke-width="3.20"/>
<line x1="2166.70" y1="860.20" x2="2166.70" y2="875.70" stroke="#000" stroke-width="3.20"/>
<line x1="2252.95" y1="860.20" x2="2252.95" y2="868.20" stroke="#000" stroke-width="3.20"/>
<line x1="2339.20" y1="860.20" x2="2339.20" y2="875.70" stroke="#000" stroke-width="3.20"/>
<line x1="2425.45" y1="860.20" x2="2425.45" y2="868.20" stroke="#000" stroke-width="3.20"/>
<g clip-path="url(#cr)">
<path d="M1477.3 536.7 L1479.2 535.2 L1481.1 538.8 L1483.0 535.8 L1484.9 534.6 L1486.8 532.9 L1488.7 531.1 L1490.6 536.4 L1492.5 544.5 L1494.4 541.1 L1496.3 535.4 L1498.2 530.9 L1500.1 527.2 L1502.0 527.9 L1503.9 531.2 L1505.8 530.3 L1507.7 532.9 L1509.6 536.1 L1511.5 536.1 L1513.4 534.1 L1515.3 532.5 L1517.2 528.5 L1519.1 530.0 L1521.0 532.4 L1522.9 528.0 L1524.8 517.9 L1526.7 527.2 L1528.6 531.2 L1530.5 522.5 L1532.4 517.8 L1534.3 518.4 L1536.2 517.5 L1538.1 518.6 L1540.0 517.3 L1541.9 514.5 L1543.8 516.5 L1545.7 514.9 L1547.6 515.3 L1549.5 515.7 L1551.4 512.2 L1553.3 507.8 L1555.2 505.7 L1557.1 503.5 L1559.0 504.9 L1560.9 502.4 L1562.8 503.1 L1564.7 500.5 L1566.6 501.8 L1568.5 500.8 L1570.4 501.4 L1572.3 501.5 L1574.2 498.5 L1576.1 495.0 L1578.0 492.5 L1579.9 490.4 L1581.8 491.1 L1583.7 488.3 L1585.6 485.4 L1587.5 488.1 L1589.4 491.5 L1591.3 488.9 L1593.2 487.1 L1595.1 486.9 L1597.0 489.8 L1598.9 488.4 L1600.8 486.6 L1602.7 479.8 L1604.6 483.0 L1606.5 482.5 L1608.4 484.1 L1610.3 488.9 L1612.2 491.2 L1614.1 483.6 L1616.0 476.7 L1617.9 479.5 L1619.8 480.8 L1621.7 484.6 L1623.6 490.2 L1625.5 485.4 L1627.4 484.0 L1629.3 484.3 L1631.2 497.8 L1633.1 496.6 L1635.0 493.7 L1636.9 490.7 L1638.8 487.7 L1640.7 490.3 L1642.6 496.6 L1644.5 501.8 L1646.4 504.3 L1648.3 505.8 L1650.2 505.8 L1652.1 501.4 L1654.0 499.0 L1655.9 502.2 L1657.8 508.0 L1659.7 511.2 L1661.6 508.9 L1663.5 508.2 L1665.4 507.6 L1667.3 505.0 L1669.2 508.0 L1671.1 512.1 L1673.0 513.2 L1674.9 513.9 L1676.8 516.3 L1678.7 517.9 L1680.6 518.7 L1682.5 519.9 L1684.4 515.0 L1686.3 509.6 L1688.2 509.9 L1690.1 517.3 L1692.0 520.0 L1693.9 519.3 L1695.8 520.8 L1697.7 522.8 L1699.6 525.1 L1701.5 526.8 L1703.4 526.1 L1705.3 525.8 L1707.2 525.5 L1709.1 525.0 L1711.0 524.1 L1712.9 523.3 L1714.8 522.1 L1716.7 519.6 L1718.6 520.3 L1720.5 521.4 L1722.4 517.5 L1724.3 516.9 L1726.2 518.3 L1728.1 516.6 L1730.0 515.3 L1731.9 517.0 L1733.8 515.2 L1735.7 514.3 L1737.6 510.3 L1739.5 509.2 L1741.4 507.9 L1743.3 507.6 L1745.2 502.9 L1747.1 496.8 L1749.0 488.8 L1750.9 482.4 L1752.8 471.8 L1754.7 464.7 L1756.6 464.0 L1758.5 460.4 L1760.4 444.1 L1762.3 446.3 L1764.2 447.2 L1766.1 452.1 L1768.0 454.9 L1769.9 455.0 L1771.8 459.0 L1773.7 469.7 L1775.6 470.3 L1777.5 470.9 L1779.4 470.1 L1781.3 470.5 L1783.2 471.4 L1785.1 474.0 L1787.0 473.5 L1788.9 468.8 L1790.8 467.7 L1792.7 468.2 L1794.6 462.8 L1796.5 460.8 L1798.4 459.7 L1800.3 460.6 L1802.2 456.3 L1804.1 451.1 L1806.0 451.3 L1807.9 452.0 L1809.8 453.1 L1811.7 454.3 L1813.6 454.0 L1815.5 455.5 L1817.4 455.3 L1819.3 459.6 L1821.2 460.0 L1823.1 462.3 L1825.0 458.6 L1826.9 460.0 L1828.8 463.7 L1830.7 463.8 L1832.6 460.7 L1834.5 460.5 L1836.4 462.2 L1838.3 465.8 L1840.2 467.9 L1842.1 472.6 L1844.0 477.2 L1845.9 479.8 L1847.8 476.5 L1849.7 485.6 L1851.6 489.3 L1853.5 489.9 L1855.4 492.3 L1857.3 497.2 L1859.2 500.4 L1861.1 505.5 L1863.0 510.2 L1864.9 515.5 L1866.8 523.1 L1868.7 520.6 L1870.6 521.5 L1872.5 531.1 L1874.4 540.4 L1876.3 547.6 L1878.2 555.3 L1880.1 564.8 L1882.0 564.6 L1883.9 566.2 L1885.8 568.4 L1887.7 575.4 L1889.6 577.8 L1891.5 585.2 L1893.4 590.1 L1895.3 593.2 L1897.2 601.8 L1899.1 603.5 L1901.0 605.2 L1902.9 608.8 L1904.8 610.6 L1906.7 614.9 L1908.6 620.8 L1910.5 624.4 L1912.4 630.3 L1914.3 633.1 L1916.2 640.9 L1918.1 646.1 L1920.0 646.4 L1921.9 650.2 L1923.8 651.9 L1925.7 654.6 L1927.6 657.1 L1929.5 659.4 L1931.4 660.2 L1933.3 660.6 L1935.2 661.8 L1937.1 667.0 L1939.0 667.8 L1940.9 668.6 L1942.8 665.2 L1944.7 668.4 L1946.6 663.5 L1948.5 665.3 L1950.4 663.9 L1952.3 664.0 L1954.2 667.9 L1956.1 670.8 L1958.0 671.4 L1959.9 669.2 L1961.8 673.9 L1963.7 672.3 L1965.6 673.9 L1967.5 676.0 L1969.4 676.3 L1971.3 679.4 L1973.2 681.6 L1975.1 685.0 L1977.0 687.1 L1978.9 687.3 L1980.8 685.9 L1982.7 689.3 L1984.6 694.3 L1986.5 697.4 L1988.4 699.6 L1990.3 703.2 L1992.2 704.1 L1994.1 704.3 L1996.0 704.4 L1997.9 704.6 L1999.8 709.3 L2001.7 714.7 L2003.6 712.3 L2005.5 709.4 L2007.4 705.4 L2009.3 707.0 L2011.2 707.2 L2013.1 715.0 L2015.0 715.5 L2016.9 715.6 L2018.8 714.2 L2020.7 715.6 L2022.6 714.4 L2024.5 718.0 L2026.4 718.6 L2028.3 717.9 L2030.2 717.9 L2032.1 718.1 L2034.0 716.9 L2035.9 717.5 L2037.8 718.0 L2039.7 716.1 L2041.6 714.2 L2043.5 714.0 L2045.4 708.4 L2047.3 709.6 L2049.2 708.0 L2051.1 704.6 L2053.0 700.9 L2054.9 695.8 L2056.8 691.9 L2058.7 689.5 L2060.6 688.6 L2062.5 687.8 L2064.4 687.2 L2066.3 680.6 L2068.2 680.4 L2070.1 677.8 L2072.0 678.4 L2073.9 679.3 L2075.8 675.5 L2077.7 668.2 L2079.6 667.1 L2081.5 665.4 L2083.4 660.9 L2085.3 654.5 L2087.2 643.5 L2089.1 639.2 L2091.0 630.5 L2092.9 623.0 L2094.8 614.2 L2096.7 607.5 L2098.6 600.1 L2100.5 592.3 L2102.4 584.3 L2104.3 575.9 L2106.2 567.7 L2108.1 561.1 L2110.0 549.3 L2111.9 543.3 L2113.8 536.6 L2115.7 536.9 L2117.6 534.6 L2119.5 535.0 L2121.4 531.1 L2123.3 529.4 L2125.2 528.4 L2127.1 527.0 L2129.0 524.1 L2130.9 524.0 L2132.8 523.8 L2134.7 525.5 L2136.6 523.1 L2138.5 526.5 L2140.4 522.1 L2142.3 525.3 L2144.2 521.9 L2146.1 523.2 L2148.0 521.7 L2149.9 528.4 L2151.8 524.0 L2153.7 528.1 L2155.6 525.8 L2157.5 526.5 L2159.4 526.7 L2161.3 528.1 L2163.2 526.9 L2165.1 523.2 L2167.0 526.3 L2168.9 525.5 L2170.8 524.0 L2172.7 525.6 L2174.6 519.8 L2176.5 520.3 L2178.4 521.8 L2180.3 521.7 L2182.2 523.4 L2184.1 520.2 L2186.0 517.3 L2187.9 510.1 L2189.8 513.6 L2191.7 518.6 L2193.6 515.0 L2195.5 511.2 L2197.4 514.7 L2199.3 517.1 L2201.2 521.1 L2203.1 517.8 L2205.0 512.8 L2206.9 507.0 L2208.8 501.0 L2210.7 496.7 L2212.6 492.7 L2214.5 485.3 L2216.4 479.4 L2218.3 474.1 L2220.2 468.9 L2222.1 457.4 L2224.0 442.1 L2225.9 430.7 L2227.8 417.0 L2229.7 408.0 L2231.6 404.9 L2233.5 405.4 L2235.4 401.1 L2237.3 393.3 L2239.2 385.1 L2241.1 377.4 L2243.0 367.8 L2244.9 358.4 L2246.8 345.1 L2248.7 331.6 L2250.6 318.6 L2252.5 306.0 L2254.4 291.3 L2256.3 279.8 L2258.2 265.4 L2260.1 258.9 L2262.0 258.9 L2263.9 252.5 L2265.8 236.8 L2267.7 234.4 L2269.6 230.6 L2271.5 229.7 L2273.4 224.5 L2275.3 218.5 L2277.2 206.1 L2279.1 205.2 L2281.0 207.6 L2282.9 205.0 L2284.8 202.8 L2286.7 200.6 L2288.6 201.2 L2290.5 201.4 L2292.4 202.1 L2294.3 204.6 L2296.2 207.4 L2298.1 212.1 L2300.0 214.2 L2301.9 222.3 L2303.8 228.9 L2305.7 237.8 L2307.6 249.9 L2309.5 255.7 L2311.4 254.0 L2313.3 249.2 L2315.2 246.8 L2317.1 244.3 L2319.0 247.4 L2320.9 249.4 L2322.8 248.6 L2324.7 252.4 L2326.6 256.6 L2328.5 252.9 L2330.4 256.2 L2332.3 264.0 L2334.2 267.8 L2336.1 271.6 L2338.0 271.7 L2339.9 273.6 L2341.8 273.2 L2343.7 278.7 L2345.6 272.3 L2347.5 268.6 L2349.4 263.8 L2351.3 258.1 L2353.2 257.8 L2355.1 255.2 L2357.0 257.5 L2358.9 260.1 L2360.8 263.2 L2362.7 262.3 L2364.6 255.3 L2366.5 253.2 L2368.4 248.2 L2370.3 245.4 L2372.2 247.1 L2374.1 243.6 L2376.0 239.7 L2377.9 235.5 L2379.8 250.9 L2381.7 257.6 L2383.6 269.9 L2385.5 276.1 L2387.4 286.6 L2389.3 293.3 L2391.2 296.1 L2393.1 297.7 L2395.0 298.5 L2396.9 299.6 L2398.8 300.0 L2400.7 301.8 L2402.6 304.0 L2404.5 307.5 L2406.4 312.2 L2408.3 313.1 L2410.2 313.6 L2412.1 311.5 L2414.0 311.2 L2415.9 310.7 L2417.8 316.1 L2419.7 315.0 L2421.6 317.1 L2423.5 315.8 L2425.4 317.3 L2427.3 317.9 L2429.2 315.3 L2431.1 317.2 L2433.0 315.5 L2434.9 319.5 L2436.8 318.0 L2438.7 317.6 L2440.6 319.6 L2442.5 320.8 L2444.4 318.2 L2446.3 318.8 L2448.2 321.1 L2450.1 325.2 L2452.0 328.7 L2453.9 327.3 L2455.8 329.2 L2457.7 330.7 L2459.6 334.2 L2461.5 340.4 L2463.4 341.6 L2465.3 343.3" fill="none" stroke="#c80000" stroke-width="6.5" stroke-linejoin="round" stroke-linecap="round"/>
<path d="M1477.3 524.5 L1479.2 523.6 L1481.1 525.4 L1483.0 523.0 L1484.9 522.1 L1486.8 526.3 L1488.7 520.3 L1490.6 512.9 L1492.5 520.1 L1494.4 523.1 L1496.3 519.8 L1498.2 521.5 L1500.1 525.2 L1502.0 519.0 L1503.9 513.6 L1505.8 513.2 L1507.7 518.9 L1509.6 518.2 L1511.5 517.2 L1513.4 518.4 L1515.3 520.9 L1517.2 508.4 L1519.1 505.1 L1521.0 507.5 L1522.9 505.0 L1524.8 504.0 L1526.7 505.7 L1528.6 504.7 L1530.5 510.3 L1532.4 510.1 L1534.3 504.0 L1536.2 504.8 L1538.1 501.0 L1540.0 510.4 L1541.9 507.5 L1543.8 499.5 L1545.7 503.3 L1547.6 509.8 L1549.5 508.7 L1551.4 499.1 L1553.3 496.0 L1555.2 493.6 L1557.1 498.9 L1559.0 500.7 L1560.9 496.3 L1562.8 496.8 L1564.7 501.4 L1566.6 498.0 L1568.5 490.5 L1570.4 487.5 L1572.3 489.1 L1574.2 486.4 L1576.1 488.1 L1578.0 488.6 L1579.9 478.7 L1581.8 476.6 L1583.7 478.3 L1585.6 476.7 L1587.5 472.2 L1589.4 475.4 L1591.3 477.5 L1593.2 475.7 L1595.1 472.3 L1597.0 468.9 L1598.9 467.2 L1600.8 469.7 L1602.7 473.4 L1604.6 476.5 L1606.5 476.1 L1608.4 474.0 L1610.3 476.7 L1612.2 479.6 L1614.1 484.9 L1616.0 486.9 L1617.9 482.2 L1619.8 481.0 L1621.7 482.9 L1623.6 483.9 L1625.5 482.8 L1627.4 481.1 L1629.3 483.8 L1631.2 485.4 L1633.1 488.7 L1635.0 492.4 L1636.9 500.3 L1638.8 497.0 L1640.7 493.2 L1642.6 494.3 L1644.5 494.2 L1646.4 492.8 L1648.3 495.4 L1650.2 501.6 L1652.1 503.4 L1654.0 503.2 L1655.9 502.3 L1657.8 502.7 L1659.7 503.9 L1661.6 501.0 L1663.5 500.0 L1665.4 503.0 L1667.3 505.7 L1669.2 508.9 L1671.1 510.9 L1673.0 507.9 L1674.9 508.1 L1676.8 507.7 L1678.7 511.1 L1680.6 509.2 L1682.5 508.7 L1684.4 503.0 L1686.3 494.8 L1688.2 491.8 L1690.1 502.5 L1692.0 510.0 L1693.9 512.2 L1695.8 518.0 L1697.7 522.1 L1699.6 518.3 L1701.5 513.5 L1703.4 515.2 L1705.3 512.2 L1707.2 509.4 L1709.1 508.1 L1711.0 510.6 L1712.9 512.6 L1714.8 510.5 L1716.7 508.2 L1718.6 510.2 L1720.5 513.0 L1722.4 513.9 L1724.3 510.7 L1726.2 508.7 L1728.1 506.3 L1730.0 504.9 L1731.9 503.5 L1733.8 504.8 L1735.7 509.1 L1737.6 503.2 L1739.5 496.4 L1741.4 493.8 L1743.3 487.6 L1745.2 487.5 L1747.1 485.7 L1749.0 481.7 L1750.9 475.4 L1752.8 469.8 L1754.7 463.5 L1756.6 457.6 L1758.5 452.7 L1760.4 444.7 L1762.3 442.3 L1764.2 438.3 L1766.1 438.2 L1768.0 442.2 L1769.9 447.1 L1771.8 455.2 L1773.7 456.3 L1775.6 453.2 L1777.5 452.3 L1779.4 452.9 L1781.3 452.3 L1783.2 458.5 L1785.1 461.6 L1787.0 456.6 L1788.9 457.8 L1790.8 458.2 L1792.7 455.9 L1794.6 456.2 L1796.5 452.9 L1798.4 444.3 L1800.3 445.0 L1802.2 446.4 L1804.1 443.2 L1806.0 445.5 L1807.9 445.1 L1809.8 443.4 L1811.7 445.0 L1813.6 448.4 L1815.5 445.8 L1817.4 448.7 L1819.3 448.8 L1821.2 451.1 L1823.1 450.9 L1825.0 451.6 L1826.9 451.1 L1828.8 453.2 L1830.7 457.3 L1832.6 459.5 L1834.5 455.4 L1836.4 456.7 L1838.3 457.3 L1840.2 457.9 L1842.1 470.1 L1844.0 472.5 L1845.9 469.8 L1847.8 473.0 L1849.7 472.9 L1851.6 481.6 L1853.5 487.1 L1855.4 486.6 L1857.3 487.0 L1859.2 495.2 L1861.1 493.5 L1863.0 494.0 L1864.9 499.3 L1866.8 505.2 L1868.7 511.9 L1870.6 519.7 L1872.5 526.8 L1874.4 535.6 L1876.3 543.1 L1878.2 552.8 L1880.1 560.9 L1882.0 561.4 L1883.9 563.8 L1885.8 566.8 L1887.7 571.8 L1889.6 577.6 L1891.5 584.6 L1893.4 590.5 L1895.3 592.9 L1897.2 600.6 L1899.1 603.3 L1901.0 604.7 L1902.9 606.1 L1904.8 610.6 L1906.7 615.3 L1908.6 618.7 L1910.5 624.4 L1912.4 629.8 L1914.3 633.1 L1916.2 637.2 L1918.1 644.5 L1920.0 645.8 L1921.9 648.4 L1923.8 651.9 L1925.7 654.7 L1927.6 656.0 L1929.5 657.2 L1931.4 658.4 L1933.3 658.2 L1935.2 658.6 L1937.1 666.6 L1939.0 666.4 L1940.9 667.2 L1942.8 665.1 L1944.7 666.3 L1946.6 659.8 L1948.5 662.4 L1950.4 661.5 L1952.3 662.4 L1954.2 664.2 L1956.1 667.1 L1958.0 669.3 L1959.9 669.6 L1961.8 671.5 L1963.7 671.4 L1965.6 672.3 L1967.5 674.9 L1969.4 677.2 L1971.3 679.4 L1973.2 682.1 L1975.1 682.6 L1977.0 685.4 L1978.9 686.6 L1980.8 685.0 L1982.7 687.3 L1984.6 692.0 L1986.5 694.0 L1988.4 697.8 L1990.3 699.6 L1992.2 701.9 L1994.1 700.5 L1996.0 699.0 L1997.9 704.0 L1999.8 707.8 L2001.7 709.6 L2003.6 707.6 L2005.5 703.2 L2007.4 706.5 L2009.3 704.8 L2011.2 706.4 L2013.1 710.6 L2015.0 714.6 L2016.9 714.4 L2018.8 712.1 L2020.7 711.3 L2022.6 711.1 L2024.5 713.7 L2026.4 717.4 L2028.3 717.2 L2030.2 716.9 L2032.1 718.6 L2034.0 715.2 L2035.9 714.8 L2037.8 715.5 L2039.7 715.4 L2041.6 711.6 L2043.5 711.6 L2045.4 707.1 L2047.3 707.4 L2049.2 706.4 L2051.1 701.5 L2053.0 699.3 L2054.9 695.8 L2056.8 690.4 L2058.7 686.7 L2060.6 687.6 L2062.5 683.9 L2064.4 680.9 L2066.3 677.4 L2068.2 676.3 L2070.1 678.6 L2072.0 677.0 L2073.9 675.3 L2075.8 671.0 L2077.7 670.7 L2079.6 664.6 L2081.5 662.2 L2083.4 658.4 L2085.3 652.4 L2087.2 643.1 L2089.1 633.8 L2091.0 626.0 L2092.9 620.9 L2094.8 613.5 L2096.7 604.6 L2098.6 600.1 L2100.5 591.9 L2102.4 582.8 L2104.3 574.8 L2106.2 567.4 L2108.1 558.7 L2110.0 552.5 L2111.9 547.7 L2113.8 538.3 L2115.7 539.6 L2117.6 536.8 L2119.5 536.2 L2121.4 532.3 L2123.3 533.6 L2125.2 530.0 L2127.1 526.4 L2129.0 524.6 L2130.9 524.3 L2132.8 525.1 L2134.7 526.4 L2136.6 527.2 L2138.5 528.7 L2140.4 526.5 L2142.3 530.8 L2144.2 528.9 L2146.1 524.1 L2148.0 523.2 L2149.9 527.1 L2151.8 527.6 L2153.7 525.3 L2155.6 528.2 L2157.5 527.9 L2159.4 527.1 L2161.3 528.5 L2163.2 529.9 L2165.1 528.6 L2167.0 527.1 L2168.9 526.1 L2170.8 526.9 L2172.7 527.0 L2174.6 524.6 L2176.5 520.9 L2178.4 521.3 L2180.3 525.7 L2182.2 522.6 L2184.1 523.8 L2186.0 521.5 L2187.9 511.3 L2189.8 513.9 L2191.7 516.4 L2193.6 518.0 L2195.5 515.5 L2197.4 515.4 L2199.3 518.0 L2201.2 519.0 L2203.1 515.7 L2205.0 510.7 L2206.9 502.0 L2208.8 497.3 L2210.7 494.4 L2212.6 489.9 L2214.5 486.1 L2216.4 476.5 L2218.3 472.7 L2220.2 470.1 L2222.1 453.1 L2224.0 441.1 L2225.9 427.0 L2227.8 417.4 L2229.7 406.6 L2231.6 404.8 L2233.5 403.7 L2235.4 398.8 L2237.3 391.9 L2239.2 385.0 L2241.1 373.1 L2243.0 365.7 L2244.9 356.1 L2246.8 342.5 L2248.7 330.1 L2250.6 313.7 L2252.5 302.7 L2254.4 288.9 L2256.3 277.7 L2258.2 264.3 L2260.1 256.8 L2262.0 253.0 L2263.9 249.3 L2265.8 237.7 L2267.7 230.8 L2269.6 228.3 L2271.5 226.9 L2273.4 218.6 L2275.3 216.2 L2277.2 211.0 L2279.1 211.6 L2281.0 212.4 L2282.9 213.9 L2284.8 212.2 L2286.7 208.1 L2288.6 209.3 L2290.5 208.6 L2292.4 212.8 L2294.3 217.2 L2296.2 222.0 L2298.1 223.3 L2300.0 226.4 L2301.9 229.4 L2303.8 234.2 L2305.7 241.8 L2307.6 247.3 L2309.5 252.8 L2311.4 253.1 L2313.3 254.2 L2315.2 253.9 L2317.1 250.5 L2319.0 242.2 L2320.9 239.8 L2322.8 235.0 L2324.7 234.9 L2326.6 238.3 L2328.5 250.2 L2330.4 252.2 L2332.3 261.2 L2334.2 268.0 L2336.1 269.3 L2338.0 269.0 L2339.9 270.4 L2341.8 273.8 L2343.7 277.0 L2345.6 273.7 L2347.5 270.4 L2349.4 265.0 L2351.3 261.1 L2353.2 260.4 L2355.1 259.0 L2357.0 259.2 L2358.9 262.9 L2360.8 265.5 L2362.7 264.6 L2364.6 257.2 L2366.5 255.8 L2368.4 254.7 L2370.3 254.2 L2372.2 248.4 L2374.1 242.3 L2376.0 235.9 L2377.9 225.6 L2379.8 224.6 L2381.7 229.1 L2383.6 237.9 L2385.5 249.8 L2387.4 258.7 L2389.3 271.4 L2391.2 283.9 L2393.1 286.5 L2395.0 291.5 L2396.9 293.2 L2398.8 295.9 L2400.7 296.9 L2402.6 298.3 L2404.5 299.5 L2406.4 305.1 L2408.3 311.9 L2410.2 319.3 L2412.1 319.3 L2414.0 314.5 L2415.9 315.7 L2417.8 320.4 L2419.7 322.5 L2421.6 322.6 L2423.5 321.7 L2425.4 321.5 L2427.3 324.0 L2429.2 322.2 L2431.1 325.6 L2433.0 325.2 L2434.9 323.8 L2436.8 323.9 L2438.7 323.7 L2440.6 329.2 L2442.5 330.7 L2444.4 327.1 L2446.3 325.2 L2448.2 325.2 L2450.1 326.7 L2452.0 327.8 L2453.9 334.4 L2455.8 335.9 L2457.7 339.8 L2459.6 344.0 L2461.5 348.0 L2463.4 351.6 L2465.3 349.8 L2467.2 352.3" fill="none" stroke="#0069ad" stroke-width="6.5" stroke-linejoin="round" stroke-linecap="round"/>
</g>
<text id="lt" transform="translate(271.68 110.00) scale(0.9977 1.0000)" font-family="'Liberation Sans', sans-serif" font-size="45.50" fill="#000">Complete Raw Spectra</text>
<text id="roi1" transform="translate(796.09 564.10) scale(1.0119 1.0000)" font-family="'Liberation Sans', sans-serif" font-size="36.00" fill="#028a4f">Region of</text>
<text id="roi2" transform="translate(795.79 607.00) scale(1.0082 1.0000)" font-family="'Liberation Sans', sans-serif" font-size="36.00" fill="#028a4f">Interest (ROI)</text>
<text id="lb" transform="translate(406.49 520.00) scale(1.0018 1.0400)" font-family="'Liberation Sans', sans-serif" font-size="36.00" font-weight="bold" fill="#0070c0">5.5 g/L Slug</text>
<text id="lr" transform="translate(472.09 578.10) scale(1.0037 1.0400)" font-family="'Liberation Sans', sans-serif" font-size="36.00" font-weight="bold" fill="#c00000">0.1 g/L Slug</text>
<text id="rt1" transform="translate(1508.05 110.00) scale(0.9973 1.0000)" font-family="'Liberation Sans', sans-serif" font-size="45.50" fill="#000">Averaged and smoothed spectra</text>
<text id="rt2" transform="translate(1506.62 165.10) scale(1.0072 1.0000)" font-family="'Liberation Sans', sans-serif" font-size="45.50" fill="#000">(Region of Interest)</text>
<text id="rb" transform="translate(1764.94 344.10) scale(1.0001 1.0400)" font-family="'Liberation Sans', sans-serif" font-size="36.00" font-weight="bold" fill="#0070c0">5.5 g/L Slug</text>
<text id="rr" transform="translate(1829.87 402.00) scale(1.0042 1.0400)" font-family="'Liberation Sans', sans-serif" font-size="36.00" font-weight="bold" fill="#c00000">0.1 g/L Slug</text>
<text id="lxl" transform="translate(548.50 993.00) scale(1.0087 1.0000)" font-family="'Liberation Serif', serif" font-size="45.00" fill="#000">Raman Shift (cm-1)</text>
<text id="rxl" transform="translate(1796.56 994.80) scale(1.0064 1.0000)" font-family="'Liberation Serif', serif" font-size="44.00" fill="#000">Raman Shift (cm-1)</text>
<text id="lyl" transform="translate(57.90 560.06) rotate(-90) scale(1.0191 1.0000)" font-family="'Liberation Serif', serif" font-size="45.00" fill="#000">Signal (mAU)</text>
<text id="ryl" transform="translate(1333.60 570.05) rotate(-90) scale(1.0174 1.0000)" font-family="'Liberation Serif', serif" font-size="44.00" fill="#000">Signal (mAU)</text>
<text id="ly11000" transform="translate(109.11 50.00) scale(0.9780 1.0200)" font-family="'Liberation Serif', serif" font-size="36.00" fill="#000">11000</text>
<text id="ly10000" transform="translate(107.86 136.00) scale(0.9780 1.0200)" font-family="'Liberation Serif', serif" font-size="36.00" fill="#000">10000</text>
<text id="ly9000" transform="translate(125.27 221.00) scale(0.9780 1.0200)" font-family="'Liberation Serif', serif" font-size="36.00" fill="#000">9000</text>
<text id="ly8000" transform="translate(125.27 307.00) scale(0.9780 1.0200)" font-family="'Liberation Serif', serif" font-size="36.00" fill="#000">8000</text>
<text id="ly7000" transform="translate(125.27 393.00) scale(0.9780 1.0200)" font-family="'Liberation Serif', serif" font-size="36.00" fill="#000">7000</text>
<text id="ly6000" transform="translate(125.27 479.00) scale(0.9780 1.0200)" font-family="'Liberation Serif', serif" font-size="36.00" fill="#000">6000</text>
<text id="ly5000" transform="translate(125.27 564.00) scale(0.9780 1.0200)" font-family="'Liberation Serif', serif" font-size="36.00" fill="#000">5000</text>
<text id="ly4000" transform="translate(125.27 650.00) scale(0.9780 1.0200)" font-family="'Liberation Serif', serif" font-size="36.00" fill="#000">4000</text>
<text id="ly3000" transform="translate(125.27 736.00) scale(0.9780 1.0200)" font-family="'Liberation Serif', serif" font-size="36.00" fill="#000">3000</text>
<text id="ly2000" transform="translate(125.27 822.00) scale(0.9780 1.0200)" font-family="'Liberation Serif', serif" font-size="36.00" fill="#000">2000</text>
<text id="lx3200" transform="translate(260.75 909.80) scale(0.9780 1.0300)" font-family="'Liberation Serif', serif" font-size="36.00" fill="#000">3200</text>
<text id="lx2800" transform="translate(408.39 909.80) scale(0.9780 1.0300)" font-family="'Liberation Serif', serif" font-size="36.00" fill="#000">2800</text>
<text id="lx2400" transform="translate(555.79 909.80) scale(0.9780 1.0300)" font-family="'Liberation Serif', serif" font-size="36.00" fill="#000">2400</text>
<text id="lx2000" transform="translate(703.47 909.80) scale(0.9780 1.0300)" font-family="'Liberation Serif', serif" font-size="36.00" fill="#000">2000</text>
<text id="lx1600" transform="translate(850.84 909.80) scale(0.9780 1.0300)" font-family="'Liberation Serif', serif" font-size="36.00" fill="#000">1600</text>
<text id="lx1200" transform="translate(998.55 909.80) scale(0.9780 1.0300)" font-family="'Liberation Serif', serif" font-size="36.00" fill="#000">1200</text>
<text id="lx800" transform="translate(1156.11 909.80) scale(0.9780 1.0300)" font-family="'Liberation Serif', serif" font-size="36.00" fill="#000">800</text>
<text id="ry5000" transform="translate(1381.21 73.20) scale(0.9780 1.0200)" font-family="'Liberation Serif', serif" font-size="36.00" fill="#000">5000</text>
<text id="ry4000" transform="translate(1381.21 391.28) scale(0.9780 1.0200)" font-family="'Liberation Serif', serif" font-size="36.00" fill="#000">4000</text>
<text id="ry3000" transform="translate(1381.21 709.36) scale(0.9780 1.0200)" font-family="'Liberation Serif', serif" font-size="36.00" fill="#000">3000</text>
<text id="rx1800" transform="translate(1444.04 914.00) scale(0.9520 1.0200)" font-family="'Liberation Serif', serif" font-size="36.00" fill="#000">1800</text>
<text id="rx1600" transform="translate(1616.50 914.00) scale(0.9520 1.0200)" font-family="'Liberation Serif', serif" font-size="36.00" fill="#000">1600</text>
<text id="rx1400" transform="translate(1789.04 914.00) scale(0.9520 1.0200)" font-family="'Liberation Serif', serif" font-size="36.00" fill="#000">1400</text>
<text id="rx1200" transform="translate(1961.50 914.00) scale(0.9520 1.0200)" font-family="'Liberation Serif', serif" font-size="36.00" fill="#000">1200</text>
<text id="rx1000" transform="translate(2134.04 914.00) scale(0.9520 1.0200)" font-family="'Liberation Serif', serif" font-size="36.00" fill="#000">1000</text>
<text id="rx800" transform="translate(2316.30 914.00) scale(0.9520 1.0200)" font-family="'Liberation Serif', serif" font-size="36.00" fill="#000">800</text>
</svg>
</body></html>
